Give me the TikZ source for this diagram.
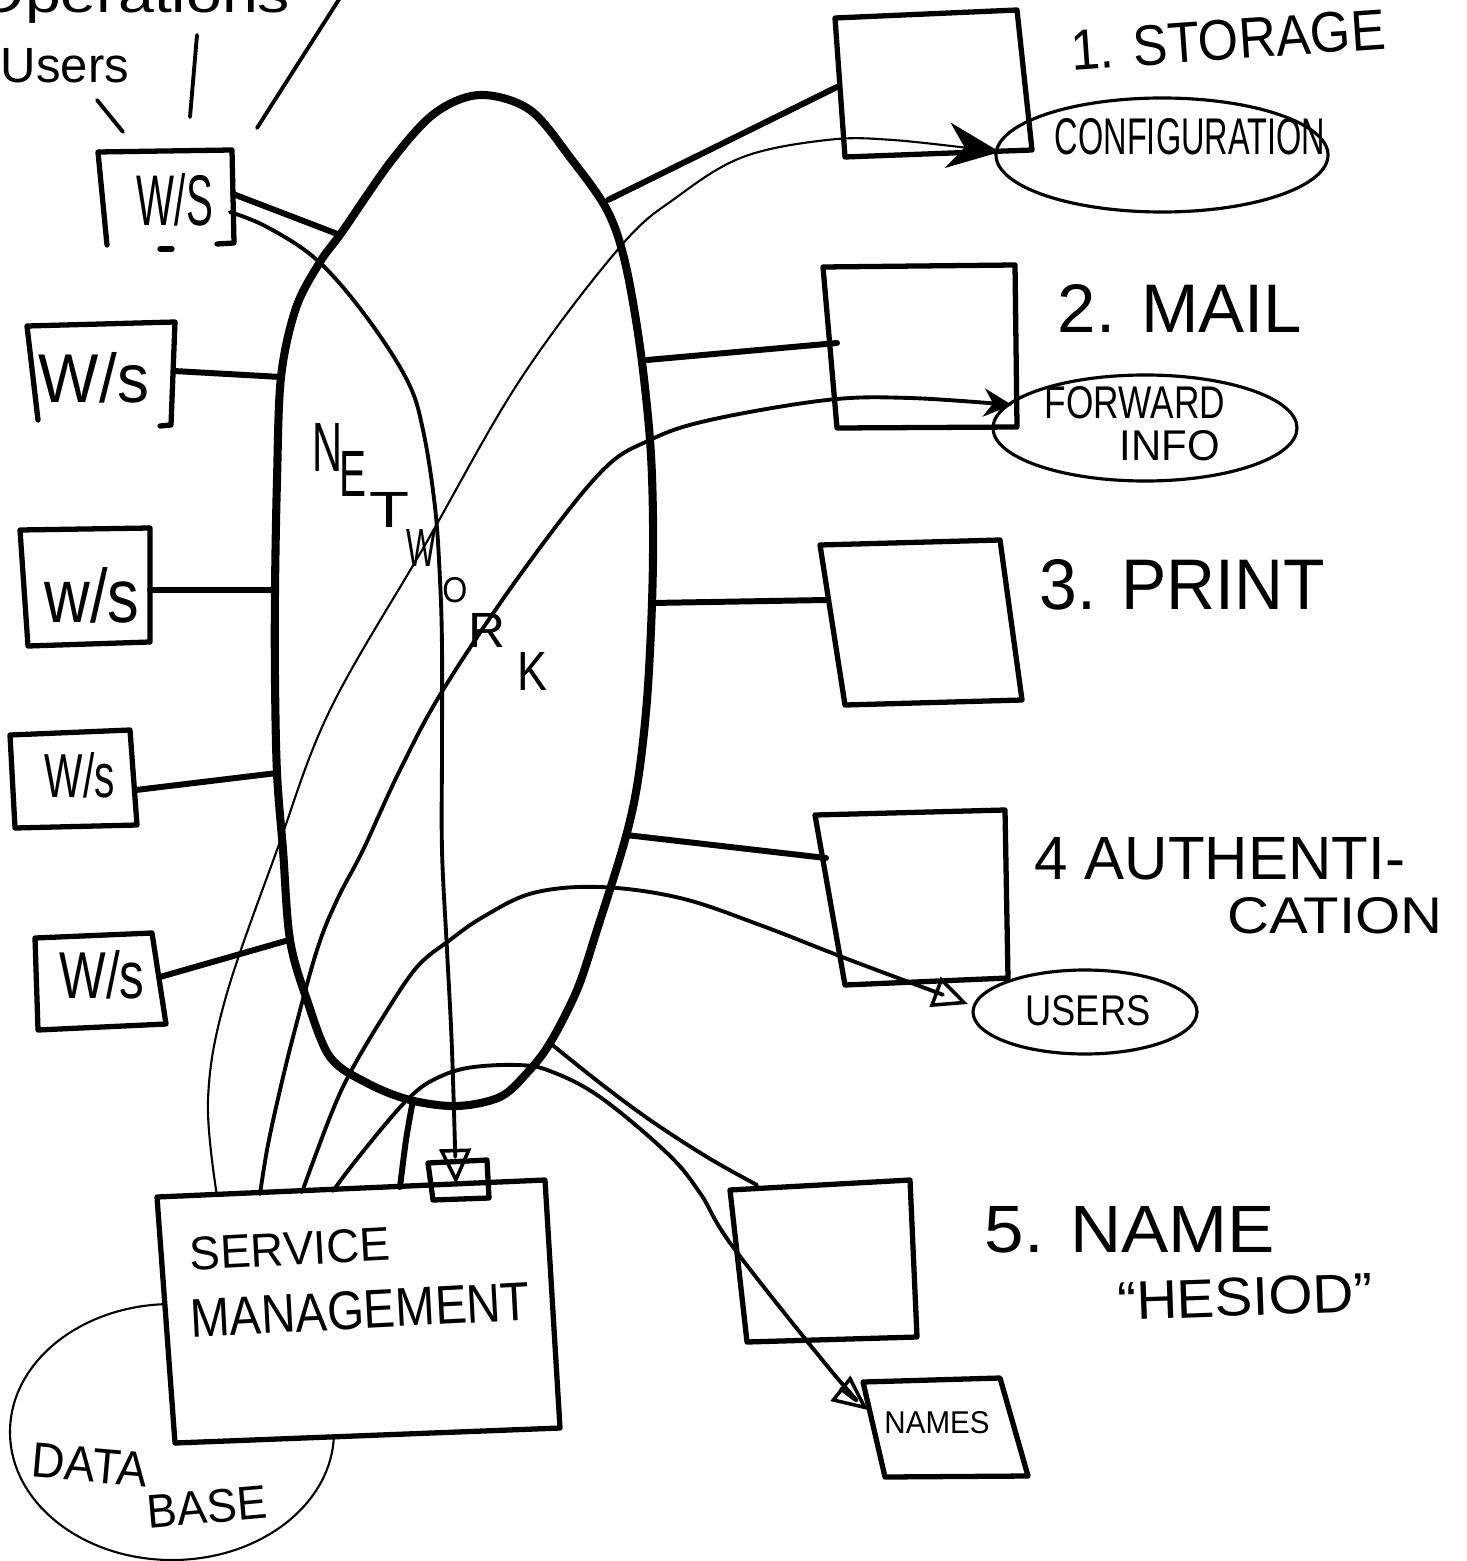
\documentclass[tikz,border=0pt]{standalone}
\usepackage{fontspec}
\usepackage{graphicx}
\setmainfont{Liberation Sans}
\usetikzlibrary{arrows.meta}
% one drawing unit = 0.1 mm
\newlength\pxu
\setlength\pxu{0.1mm}
% hand lettering squeezed into a given width and cap height
\newcommand\sk[3]{\resizebox{#1\pxu}{#2\pxu}{#3}}
\begin{document}
\begin{tikzpicture}[x=0.01cm,y=-0.01cm,
  line cap=round, line join=round,
  net/.style={line width=2.3pt},
  box/.style={line width=1.5pt},
  link/.style={line width=1.7pt},
  wire/.style={line width=1.1pt},
  faint/.style={line width=0.6pt},
  oval/.style={line width=0.9pt},
  txt/.style={inner sep=0pt, outer sep=0pt},
  tipbig/.style={-{Stealth[length=15pt,width=13pt]}},
  tipsmall/.style={-{Stealth[length=8pt,width=8pt]}},
  tipopen/.style={-{Triangle[open,length=10pt,width=9pt,line width=1pt]}},
]
\clip (0,0) rectangle (1466,1561);
\fill[white] (0,0) rectangle (1466,1561);

% ---------- network cloud ----------
\draw[net] plot[smooth cycle, tension=0.55] coordinates {
  (480,95) (530,110) (572,160) (607,210) (625,262) (640,347) (650,440)
  (653,520) (652,603) (647,700) (638,780) (625,840) (597,930) (577,990)
  (550,1043) (527,1073) (500,1097) (457,1106) (410,1100) (367,1083)
  (330,1057) (307,1000) (290,940) (283,850) (277,773) (275,680) (275,590)
  (277,480) (281,377) (296,308) (320,262) (342,232) (392,160) (435,113)};
\coordinate (netW1) at (340,235);
\coordinate (netW2) at (281,377);
\coordinate (netW3) at (275,590);
\coordinate (netW4) at (277,773);
\coordinate (netW5) at (289,940);
\coordinate (netST) at (608,200);
\coordinate (netML) at (647,360);
\coordinate (netPR) at (652,603);
\coordinate (netAU) at (626,835);
\coordinate (netNM) at (550,1043);
\coordinate (netSM) at (413,1100);

\node[txt] (nN) at (328,447) {\sk{30}{48}{N}};
\node[txt] (nE) at (353,474) {\sk{27}{45}{E}};
\node[txt] (nT) at (390,510) {\sk{40}{35}{T}};
\node[txt] (nW) at (422,548) {\sk{30}{37}{W}};
\node[txt] (nO) at (455,590) {\sk{25}{25}{O}};
\node[txt] (nR) at (487,630) {\sk{37}{34}{R}};
\node[txt] (nK) at (532,671) {\sk{30}{38}{K}};

% ---------- workstations ----------
\draw[box] (107,245) -- (98,152) -- (232,150) -- (234,243) -- (217,244);
\draw[box] (160,249) -- (172,249);
\node[txt] (ws1) at (175,200) {\sk{76}{52}{W/S}};
\coordinate (ws1E) at (233,194);
\coordinate (ws1F) at (230,212);

\draw[box] (38,420) -- (27,326) -- (175,322) -- (171,425) -- (160,426);
\node[txt] (ws2) at (94,378) {\sk{110}{50}{W/s}};
\coordinate (ws2E) at (174,371);

\draw[box] (20,530) -- (150,528) -- (150,642) -- (28,646) -- cycle;
\node[txt] (ws3) at (92,595) {\sk{95}{55}{w/s}};
\coordinate (ws3E) at (150,590);

\draw[box] (10,735) -- (130,730) -- (137,825) -- (15,828) -- cycle;
\node[txt] (ws4) at (80,775) {\sk{70}{45}{W/s}};
\coordinate (ws4E) at (136,790);

\draw[box] (35,938) -- (152,933) -- (166,1024) -- (38,1030) -- cycle;
\node[txt] (ws5) at (102,975) {\sk{85}{48}{W/s}};
\coordinate (ws5E) at (160,977);

\draw[link] (ws1E) -- (netW1);
\draw[link] (ws2E) -- (netW2);
\draw[link] (ws3E) -- (netW3);
\draw[link] (ws4E) -- (netW4);
\draw[link] (ws5E) -- (netW5);

% people at the first workstation
\node[txt, anchor=base west] (ops) at (-25,13) {\sk{315}{38}{Operations}};
\node[txt, anchor=base west] (usr) at (1,83) {\sk{128}{34}{Users}};
\coordinate (pA1) at (97,100);  \coordinate (pA2) at (123,132);
\coordinate (pB1) at (197,35);  \coordinate (pB2) at (190,117);
\coordinate (pC1) at (345,-10); \coordinate (pC2) at (257,128);
\draw[wire] (pA1) -- (pA2);
\draw[wire] (pB1) -- (pB2);
\draw[wire] (pC1) -- (pC2);

% ---------- services ----------
% 1. storage
\draw[oval] (1162,155) ellipse [x radius=166, y radius=57];
\node[txt] (conf) at (1190,137) {\sk{270}{36}{CONFIGURATION}};
\draw[box] (835,18) -- (1017,10) -- (1032,150) -- (845,157) -- cycle;
\node[txt, rotate=4] (lst) at (1228,40) {\sk{315}{40}{1. STORAGE}};
\coordinate (stW) at (837,87);
\coordinate (confW) at (1000,152);
\draw[link] (netST) -- (stW);

% 2. mail
\draw[oval] (1145,428) ellipse [x radius=152, y radius=53];
\node[txt] (fwd1) at (1135,403) {\sk{180}{32}{FORWARD}};
\node[txt] (fwd2) at (1170,446) {\sk{100}{30}{INFO}};
\draw[box] (823,267) -- (1015,265) -- (1017,427) -- (837,428) -- cycle;
\node[txt] (lml) at (1180,308) {\sk{244}{48}{2. MAIL}};
\coordinate (mlW) at (837,343);
\coordinate (fwdW) at (1012,405);
\draw[link] (netML) -- (mlW);

% 3. print
\draw[box] (820,545) -- (1000,540) -- (1022,700) -- (845,705) -- cycle;
\node[txt] (lpr) at (1182,585) {\sk{285}{50}{3. PRINT}};
\coordinate (prW) at (826,600);
\draw[link] (netPR) -- (prW);

% 4. authentication
\draw[oval] (1085,1012) ellipse [x radius=112, y radius=42];
\node[txt] (usrs) at (1088,1011) {\sk{125}{30}{USERS}};
\draw[box] (815,815) -- (1005,810) -- (1008,978) -- (845,985) -- cycle;
\node[txt] (lau1) at (1220,859) {\sk{370}{42}{4 AUTHENTI-}};
\node[txt] (lau2) at (1335,916) {\sk{215}{36}{CATION}};
\coordinate (auW) at (826,858);
\coordinate (usrW) at (968,1004);
\draw[link] (netAU) -- (auW);

% 5. name
\draw[box] (730,1190) -- (910,1180) -- (917,1337) -- (747,1342) -- cycle;
\node[txt] (lnm1) at (1130,1230) {\sk{290}{46}{5. NAME}};
\node[txt, rotate=2] (lnm2) at (1245,1297) {\sk{255}{38}{``HESIOD''}};
\draw[box] (863,1382) -- (1000,1378) -- (1028,1476) -- (885,1477) -- cycle;
\node[txt] (nms) at (937,1423) {\sk{105}{22}{NAMES}};
\coordinate (nmbNW) at (757,1185);
\coordinate (namesW) at (868,1410);
\draw[wire] plot[smooth, tension=0.6] coordinates {(netNM) (600,1083) (650,1120) (707,1157) (nmbNW)};

% ---------- service management ----------
\draw[faint] (172,1432) ellipse [x radius=162, y radius=128];
\draw[box, fill=white] (157,1197) -- (545,1180) -- (560,1428) -- (175,1443) -- cycle;
\node[txt, rotate=3] (svc1) at (290,1249) {\sk{200}{33}{SERVICE}};
\node[txt, rotate=3] (svc2) at (360,1310) {\sk{340}{38}{MANAGEMENT}};
\node[txt, rotate=-5] (db1) at (90,1465) {\sk{116}{34}{DATA}};
\node[txt, rotate=5] (db2) at (207,1507) {\sk{120}{33}{BASE}};
\draw[box] (428,1163) -- (487,1160) -- (489,1198) -- (433,1200) -- cycle;
\coordinate (smallN) at (456,1184);
\coordinate (svcA) at (217,1196);
\coordinate (svcB) at (260,1194);
\coordinate (svcC) at (302,1192);
\coordinate (svcD) at (333,1191);
\coordinate (svcE) at (400,1187);

% ---------- management traffic ----------
\draw[link] plot[smooth] coordinates {(svcE) (406,1140) (netSM)};
\draw[faint, tipbig] plot[smooth, tension=0.6] coordinates {(svcA) (208,1100) (225,1000)
  (277,850) (330,710) (425,545) (520,380) (620,247) (677,197) (743,157) (827,140)
  (893,140) (confW)};
\draw[wire, tipsmall] plot[smooth, tension=0.6] coordinates {(svcB) (267,1150) (277,1103)
  (293,1037) (317,950) (337,900) (363,850) (400,770) (443,690) (520,575) (600,473)
  (650,440) (710,420) (827,400) (910,398) (fwdW)};
\draw[wire, tipopen] plot[smooth, tension=0.6] coordinates {(svcC) (330,1117) (350,1073)
  (383,1017) (417,967) (450,940) (483,917) (533,893) (600,887) (680,898) (760,925)
  (850,960) (usrW)};
\draw[wire, tipopen] plot[smooth, tension=0.6] coordinates {(svcD) (350,1168) (383,1127)
  (410,1097) (433,1080) (467,1068) (517,1065) (550,1071) (600,1097) (667,1153)
  (700,1193) (733,1247) (833,1373) (namesW)};
\draw[wire, tipopen] plot[smooth, tension=0.6] coordinates {(ws1F) (267,227) (317,260)
  (365,315) (407,380) (423,430) (435,507) (440,580) (442,647) (442,750) (442,850)
  (447,950) (452,1050) (smallN)};
\end{tikzpicture}
\end{document}
